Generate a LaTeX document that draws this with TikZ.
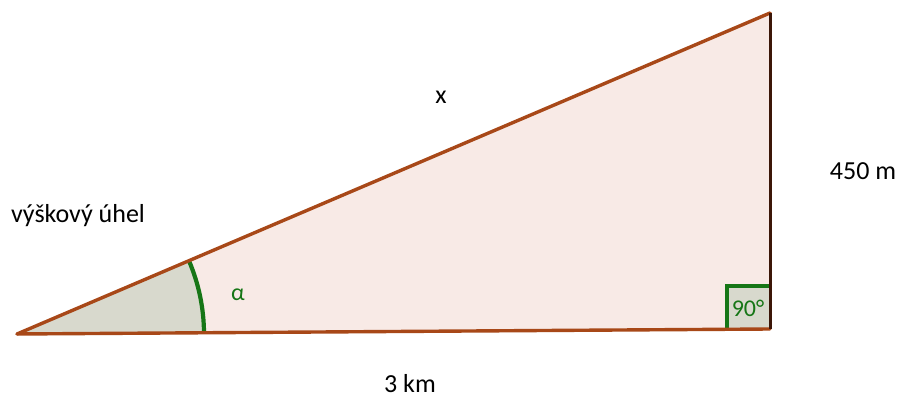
\documentclass[tikz,border=0pt]{standalone}
\usepackage{fontspec}
\setmainfont{Carlito}
\usetikzlibrary{calc}
\definecolor{edgebrown}{RGB}{168,72,24}
\definecolor{edgedark}{RGB}{60,22,8}
\definecolor{fillpink}{RGB}{248,234,230}
\definecolor{sectorgray}{RGB}{216,217,205}
\definecolor{anglegreen}{RGB}{22,118,22}
\tikzset{
  lbl/.style={font=\fontsize{26}{30}\selectfont, text=black, inner sep=0pt},
  glbl/.style={font=\fontsize{24}{28}\selectfont, text=anglegreen, inner sep=0pt},
  side/.style={line width=3.4pt, line cap=round, draw=edgebrown},
}
\begin{document}
\begin{tikzpicture}[x=1pt,y=-1pt]
\useasboundingbox (0,0) rectangle (913,398);
\coordinate (A) at (17,334);
\coordinate (B) at (770,329);
\coordinate (C) at (770,13);
% triangle fill
\fill[fillpink] (A) -- (B) -- (C) -- cycle;
% sector
\fill[sectorgray] (A) -- (204,333) arc[start angle=0.38, end angle=23.1, x radius=187, y radius=-187] -- cycle;
% right angle square
\fill[sectorgray] (727,286) rectangle (770,329);
\draw[anglegreen, line width=4pt] (727,329) -- (727,286) -- (770,286);
\node[glbl] (ninety) at (748,308) {90°};
% arc
\draw[anglegreen, line width=4.2pt] (204,333) arc[start angle=0.38, end angle=23.1, x radius=187, y radius=-187];
% sides
\draw[side] (A) -- (B);
\draw[side] (A) -- (C);
\draw[line width=3pt, draw=edgedark] (C) -- (B);
% labels
\node[lbl] (x) at (441,97) {x};
\node[lbl] (h) at (863,171) {450 m};
\node[lbl] (vu) at (78,216) {výškový úhel};
\node[glbl] (alpha) at (238,295) {α};
\node[lbl] (b) at (410,384) {3 km};
\end{tikzpicture}
\end{document}
